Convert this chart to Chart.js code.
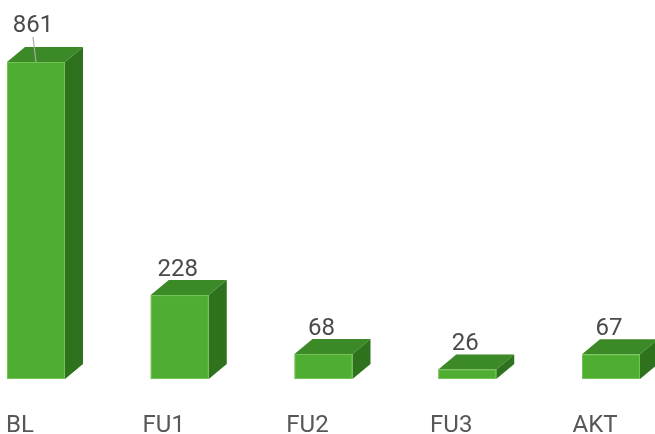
<!DOCTYPE html>
<html>
<head>
<meta charset="utf-8">
<script src="https://cdn.jsdelivr.net/npm/chart.js@4"></script>
<style>
  html, body { margin: 0; padding: 0; background: #fff; }
  #wrap { width: 655px; height: 434px; position: relative; }
</style>
</head>
<body>
<div id="wrap"><canvas id="myChart"></canvas></div>
<script>
const categories = ['BL', 'FU1', 'FU2', 'FU3', 'AKT']
const counts = [861, 228, 68, 26, 67]

// depth of the fake 3d box
const DX = 18
const DY = 15

function draw_box(ctx, left, right, top, bottom) {
    // top face
    ctx.fillStyle = '#3b8a27'
    ctx.beginPath()
    ctx.moveTo(left, top)
    ctx.lineTo(left + DX, top - DY)
    ctx.lineTo(right + DX, top - DY)
    ctx.lineTo(right, top)
    ctx.closePath()
    ctx.fill()
    // side face
    ctx.fillStyle = '#2f721e'
    ctx.beginPath()
    ctx.moveTo(right, top)
    ctx.lineTo(right + DX, top - DY)
    ctx.lineTo(right + DX, bottom - DY)
    ctx.lineTo(right, bottom)
    ctx.closePath()
    ctx.fill()
    // front face
    ctx.fillStyle = '#4fae32'
    ctx.fillRect(left, top, right - left, bottom - top)
    // light edges
    ctx.strokeStyle = 'rgba(140,210,110,0.6)'
    ctx.lineWidth = 1
    ctx.strokeRect(left + 0.5, top + 0.5, right - left - 1, bottom - top - 1)
}

const boxPlugin = {
    id: 'box3d',
    afterDatasetsDraw(chart) {
        const ctx = chart.ctx
        const meta = chart.getDatasetMeta(0)
        ctx.save()
        meta.data.forEach((bar, i) => {
            const left = bar.x - bar.width / 2
            const right = bar.x + bar.width / 2
            draw_box(ctx, left, right, bar.y, bar.base)

            // value label
            let labelY = bar.y - DY - 4
            let labelX = bar.x - 2
            if (i === 0) {
                // tall bar: label lifted with a small leader line
                labelY -= 11
                labelX -= 1
                ctx.strokeStyle = '#a8a8a8'
                ctx.lineWidth = 1.2
                ctx.beginPath()
                ctx.moveTo(labelX, labelY + 5)
                ctx.lineTo(bar.x, bar.y)
                ctx.stroke()
            }
            ctx.fillStyle = '#4a4a4a'
            ctx.font = '24px Roboto, "Noto Sans", sans-serif'
            ctx.textAlign = 'center'
            ctx.textBaseline = 'alphabetic'
            ctx.fillText(String(counts[i]), labelX, labelY)

            // category label
            ctx.fillStyle = '#575757'
            ctx.fillText(categories[i], bar.x - 16, 432)
        })
        ctx.restore()
    }
}

document.addEventListener('DOMContentLoaded', function () {
    const ctx = document.getElementById('myChart').getContext('2d')
    new Chart(ctx, {
        type: 'bar',
        data: {
            labels: categories,
            datasets: [{
                data: counts,
                backgroundColor: 'rgba(0,0,0,0)',
                borderWidth: 0,
                barThickness: 58
            }]
        },
        options: {
            responsive: true,
            maintainAspectRatio: false,
            animation: false,
            layout: { padding: { left: 36, right: 44, top: 62, bottom: 55 } },
            scales: {
                x: { display: false, offset: false },
                y: { display: false, min: 0, max: 861 }
            },
            plugins: {
                legend: { display: false },
                tooltip: { enabled: false }
            }
        },
        plugins: [boxPlugin]
    })
})
</script>
</body>
</html>
